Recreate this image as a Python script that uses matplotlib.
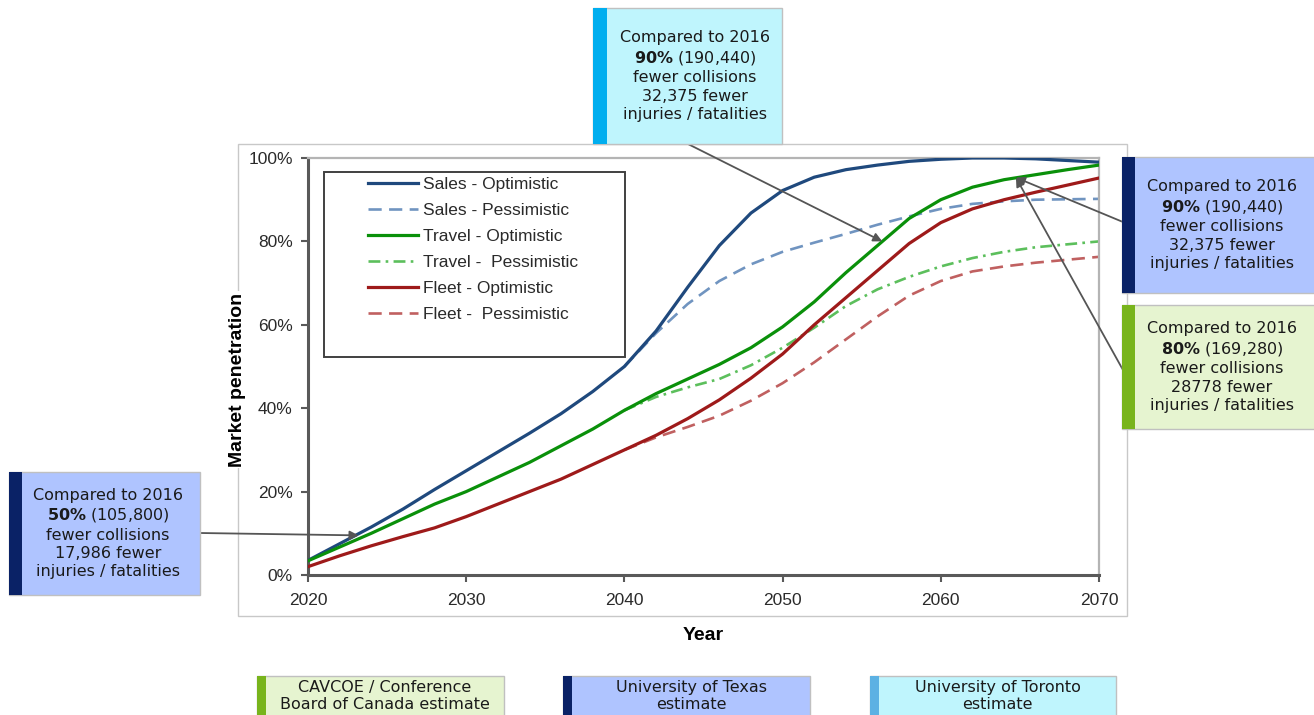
import matplotlib
matplotlib.use("Agg")
import matplotlib.pyplot as plt
from matplotlib.patches import Rectangle
from matplotlib.ticker import PercentFormatter

# penetration curves (% of market), read every 2 years
years = list(range(2020, 2071, 2))
years_pess = list(range(2040, 2071, 2))  # pessimistic scenarios split off after 2040

sales_opt = [3.5, 7.5, 11.5, 15.8, 20.5, 25, 29.5, 34, 38.7, 44, 50, 58.5, 69,
             79, 86.8, 92.2, 95.4, 97.2, 98.3, 99.2, 99.7, 100, 100, 99.8, 99.4, 99]
sales_pess = [50, 58, 65, 70.5, 74.5, 77.5, 79.7, 81.8, 84, 86, 87.8, 89, 89.6, 90, 90.1, 90.2]
travel_opt = [3.4, 6.7, 10, 13.5, 17, 20, 23.5, 27, 31, 35, 39.5, 43.5, 47,
              50.5, 54.5, 59.5, 65.5, 72.5, 79, 85.5, 90, 93, 94.8, 96, 97.2, 98.3]
travel_pess = [39.5, 42.7, 45, 47, 50.3, 54.5, 59.3, 64.5, 68.5, 71.5, 74, 76, 77.5, 78.6, 79.3, 80]
fleet_opt = [2, 4.6, 7, 9.2, 11.3, 14, 17, 20, 23, 26.5, 30, 33.5, 37.5,
             42, 47.2, 53, 60, 66.5, 73, 79.5, 84.5, 87.8, 90, 91.8, 93.5, 95.2]
fleet_pess = [30, 33, 35.5, 38.2, 41.8, 46, 51, 56.5, 62, 67, 70.5, 72.8, 74, 74.9, 75.6, 76.3]

labels = ["Sales - Optimistic", "Sales - Pessimistic", "Travel - Optimistic",
          "Travel -  Pessimistic", "Fleet - Optimistic", "Fleet -  Pessimistic"]

box_text_90 = "Compared to 2016\n$\\bf{90\\%}$ (190,440)\nfewer collisions\n32,375 fewer\ninjuries / fatalities"
box_text_80 = "Compared to 2016\n$\\bf{80\\%}$ (169,280)\nfewer collisions\n28778 fewer\ninjuries / fatalities"
box_text_50 = "Compared to 2016\n$\\bf{50\\%}$ (105,800)\nfewer collisions\n17,986 fewer\ninjuries / fatalities"
source_labels = ["CAVCOE / Conference\nBoard of Canada estimate",
                 "University of Texas\nestimate",
                 "University of Toronto\nestimate"]

W, H = 1314, 715
NAVY = "#0a2266"
GREEN = "#78b41c"
CYAN = "#00aeef"
SKY = "#5cb1e3"
PERI = "#afc4ff"
LGREEN = "#e6f4d0"
LCYAN = "#bff5fd"

plt.rcParams["mathtext.fontset"] = "dejavusans"

fig = plt.figure(figsize=(W / 100, H / 100), dpi=100)


def fx(x):
    return x / W


def fy(y):
    return 1 - y / H


def px_rect(x0, y0, x1, y1, **kw):
    r = Rectangle((fx(x0), fy(y1)), fx(x1) - fx(x0), fy(y0) - fy(y1),
                  transform=fig.transFigure, **kw)
    fig.patches.append(r)
    return r


# light frame round the chart, kept under the axes and its labels
px_rect(238, 144, 1127, 616, fill=False, ec="#c8c8c8", lw=1.0, zorder=-1)

ax = fig.add_axes([fx(308), fy(575), fx(1099) - fx(308), fy(158) - fy(575)])
ax.patch.set_alpha(0)

ax.plot(years_pess, sales_pess, color="#7094c0", lw=1.9, ls=(0, (5, 2.8)), label=labels[1], zorder=2)
ax.plot(years_pess, travel_pess, color="#5cbf5c", lw=1.9, ls=(0, (4.5, 2, 1, 2)), label=labels[3], zorder=2)
ax.plot(years_pess, fleet_pess, color="#c06060", lw=1.9, ls=(0, (5, 2.8)), label=labels[5], zorder=2)
ax.plot(years, sales_opt, color="#1f497d", lw=2.3, label=labels[0], zorder=3)
ax.plot(years, travel_opt, color="#0a900a", lw=2.3, label=labels[2], zorder=3)
ax.plot(years, fleet_opt, color="#9e1a1a", lw=2.3, label=labels[4], zorder=3)

ax.set_xlim(2020, 2070)
ax.set_ylim(0, 100)
ax.set_xticks(range(2020, 2071, 10))
ax.set_yticks(range(0, 101, 20))
ax.yaxis.set_major_formatter(PercentFormatter(decimals=0))

for lab in ax.get_xticklabels() + ax.get_yticklabels():
    lab.set_fontfamily("Liberation Sans")
    lab.set_fontsize(12.5)
    lab.set_color("#2a2a2a")
ax.tick_params(axis="y", length=5, width=1.5, color="#595959", pad=6)
ax.tick_params(axis="x", length=5, width=1.5, color="#595959", pad=8)

for side in ("left", "bottom"):
    ax.spines[side].set_color("#595959")
    ax.spines[side].set_linewidth(2.2)
for side in ("top", "right"):
    ax.spines[side].set_color("#b4b4b4")
    ax.spines[side].set_linewidth(1.6)

ax.set_xlabel("Year", fontfamily="Liberation Sans", fontsize=14, fontweight="bold")
ax.set_ylabel("Market penetration", fontfamily="Liberation Sans", fontsize=14, fontweight="bold",
              bbox=dict(fc="white", ec="none", pad=1))
ax.xaxis.set_label_coords(0.5, -0.125)
ax.yaxis.set_label_coords(-0.079, 0.468)

# legend with its own box, wider on the left than matplotlib pads it
ax.add_patch(Rectangle((0.0202, 0.5228), 0.3806, 0.4436, transform=ax.transAxes,
                       fc="white", ec="#404040", lw=1.4, zorder=4))
handles, labs = ax.get_legend_handles_labels()
by_label = dict(zip(labs, handles))
leg = ax.legend([by_label[l] for l in labels], labels, loc="upper left",
                bbox_to_anchor=(0.0759, 0.954), frameon=False, borderpad=0,
                borderaxespad=0, handlelength=2.87, handletextpad=0.3,
                labelspacing=0.62, prop=dict(family="Liberation Sans", size=12.5))
leg.set_zorder(5)
for t in leg.get_texts():
    t.set_color("#2a2a2a")

# arrows from the callouts to the curves
arrow = dict(arrowstyle="-|>", color="#555555", lw=1.3, mutation_scale=13,
             shrinkA=0, shrinkB=0)
ax.annotate("", xy=(2023.2, 9.5), xytext=(200, H - 533), textcoords="figure pixels",
            arrowprops=arrow, annotation_clip=False)
ax.annotate("", xy=(2056.3, 80), xytext=(688, H - 144), textcoords="figure pixels",
            arrowprops=arrow, annotation_clip=False)
ax.annotate("", xy=(2064.75, 95.3), xytext=(1123, H - 222), textcoords="figure pixels",
            arrowprops=arrow, annotation_clip=False)
ax.annotate("", xy=(2064.75, 95.3), xytext=(1123, H - 370), textcoords="figure pixels",
            arrowprops=arrow, annotation_clip=False)


def callout(x0, y0, x1, y1, stripe, stripe_w, fill, text, tx, fs=11.5, ls=1.28):
    px_rect(x0, y0, x1, y1, fc=fill, ec="#c0c0c0", lw=1.0, zorder=5)
    px_rect(x0, y0, x0 + stripe_w, y1, fc=stripe, ec="none", zorder=5.5)
    fig.text(fx(tx), fy((y0 + y1) / 2), text, ha="center", va="center",
             fontsize=fs, family="DejaVu Sans", color="#1a1a1a",
             linespacing=ls, zorder=6)


callout(593, 8, 782, 144, CYAN, 14, LCYAN, box_text_90, 695)
callout(1122, 157, 1318, 293, NAVY, 13, PERI, box_text_90, 1222)
callout(1122, 305, 1318, 429, GREEN, 13, LGREEN, box_text_80, 1222)
callout(9, 472, 200, 595, NAVY, 13, PERI, box_text_50, 108)

# source key along the bottom edge
for (x0, x1), stripe, fill, text in zip([(257, 504), (563, 810), (870, 1116)],
                                        [GREEN, NAVY, SKY],
                                        [LGREEN, PERI, LCYAN], source_labels):
    px_rect(x0, 676, x1, 725, fc=fill, ec="#c0c0c0", lw=1.0, zorder=5)
    px_rect(x0, 676, x0 + 9, 725, fc=stripe, ec="none", zorder=5.5)
    fig.text(fx((x0 + 9 + x1) / 2), fy(696), text, ha="center", va="center",
             fontsize=11.5, family="DejaVu Sans", color="#1a1a1a",
             linespacing=1.1, zorder=6)

fig.savefig("out.png", dpi=100)
